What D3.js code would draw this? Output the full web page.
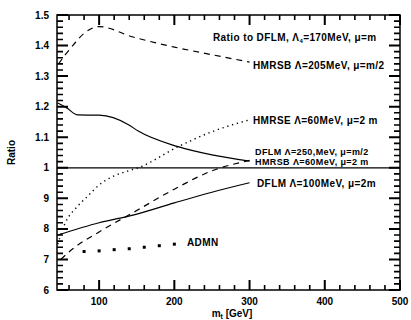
<!DOCTYPE html>
<html>
<head>
<meta charset="utf-8">
<script src="https://cdn.jsdelivr.net/npm/d3@7"></script>
<style>
  body { margin: 0; background: #fff; }
  text { font-family: "Liberation Sans", Arial, sans-serif; font-weight: bold; fill: #000; }
</style>
</head>
<body>
<div id="chart"></div>
<script>
// tick values and labels
const xTicks = [100, 200, 300, 400, 500];
const xMinor = [60, 80, 120, 140, 160, 180, 220, 240, 260, 280, 320, 340, 360, 380, 420, 440, 460, 480];
const yTicks = [0.6, 0.7, 0.8, 0.9, 1.0, 1.1, 1.2, 1.3, 1.4, 1.5];
const yTickLabels = ["6", "7", "8", "9", "1", "1.1", "1.2", "1.3", "1.4", "1.5"];

// curves, [m_t, ratio]
const hmrsb205 = [[46, 1.34], [55, 1.37], [65, 1.40], [80, 1.44], [100, 1.462], [145, 1.428], [200, 1.395], [250, 1.37], [300, 1.346]];
const hmrse60 = [[45, 0.75], [54, 0.814], [71, 0.873], [84, 0.905], [100, 0.944], [117, 0.97], [135, 0.987], [152, 1.0], [205, 1.069], [250, 1.118], [300, 1.157]];
const dflm250 = [[45, 1.212], [57, 1.196], [71, 1.173], [100, 1.172], [139, 1.141], [152, 1.12], [205, 1.069], [250, 1.042], [300, 1.022]];
const hmrsb60 = [[49, 0.70], [65, 0.735], [100, 0.79], [150, 0.86], [200, 0.93], [250, 0.99], [300, 1.024]];
const dflm100 = [[45, 0.78], [100, 0.82], [145, 0.845], [200, 0.885], [250, 0.92], [300, 0.951]];
const admnM = [80, 100, 120, 140, 160, 180, 200];
const admnRatio = [0.726, 0.728, 0.732, 0.735, 0.74, 0.745, 0.75];

const width = 411, height = 320;
const margin = { top: 15, right: 11, bottom: 30, left: 57 };

const x = d3.scaleLinear().domain([44, 500]).range([margin.left, width - margin.right]);
const y = d3.scaleLinear().domain([0.6, 1.5]).range([height - margin.bottom, margin.top]);

const svg = d3.select("#chart").append("svg")
    .attr("width", width)
    .attr("height", height);

const xL = margin.left, xR = width - margin.right;
const yB = height - margin.bottom, yT = margin.top;
const yMinor = d3.range(0.62, 1.5, 0.02).filter(v => Math.abs(v * 10 - Math.round(v * 10)) > 0.01);

// frame
svg.append("rect")
    .attr("x", xL)
    .attr("y", yT)
    .attr("width", xR - xL)
    .attr("height", yB - yT)
    .attr("fill", "none")
    .attr("stroke", "#000")
    .attr("stroke-width", 1.5);

// inward tick marks on all four sides
function yTickPath(vals, len) {
    return vals.map(d => `M${xL},${y(d)}h${len}M${xR},${y(d)}h${-len}`).join("");
}
function xTickPath(vals, len) {
    return vals.map(d => `M${x(d)},${yB}v${-len}M${x(d)},${yT}v${len}`).join("");
}
svg.append("path")
    .attr("d", yTickPath(yTicks, 11) + xTickPath(xTicks, 10))
    .attr("fill", "none")
    .attr("stroke", "#000")
    .attr("stroke-width", 2);
svg.append("path")
    .attr("d", yTickPath(yMinor, 6) + xTickPath(xMinor, 5))
    .attr("fill", "none")
    .attr("stroke", "#000")
    .attr("stroke-width", 1.6);

// tick labels
svg.append("g")
    .selectAll("text")
    .data(yTicks)
    .join("text")
    .attr("x", xL - 8)
    .attr("y", d => y(d))
    .attr("dy", "0.35em")
    .attr("text-anchor", "end")
    .attr("font-size", 10)
    .text((d, i) => yTickLabels[i]);

svg.append("g")
    .selectAll("text")
    .data(xTicks)
    .join("text")
    .attr("x", d => x(d))
    .attr("y", 305)
    .attr("text-anchor", "middle")
    .attr("font-size", 10)
    .text(d => d);

// reference line at ratio 1
svg.append("line")
    .attr("x1", x(44)).attr("x2", x(500))
    .attr("y1", y(1)).attr("y2", y(1))
    .attr("stroke", "#000")
    .attr("stroke-width", 1.3);

const line = d3.line()
    .x(d => x(d[0]))
    .y(d => y(d[1]))
    .curve(d3.curveMonotoneX);

function curve(data, dash, w = 1.2) {
    svg.append("path")
        .datum(data)
        .attr("d", line)
        .attr("fill", "none")
        .attr("stroke", "#000")
        .attr("stroke-width", w)
        .attr("stroke-dasharray", dash);
}
curve(hmrsb205, "6,5");
curve(hmrse60, "1.3,3.7", 1.4);
curve(dflm250, null);
curve(hmrsb60, "6,5");
curve(dflm100, null);

// ADMN points
svg.append("g")
    .selectAll("rect")
    .data(admnM)
    .join("rect")
    .attr("x", d => x(d) - 1.5)
    .attr("y", (d, i) => y(admnRatio[i]) - 1.5)
    .attr("width", 3)
    .attr("height", 3)
    .attr("fill", "#000");

// curve labels
function label(tx, ty, parts, fs = 10) {
    const t = svg.append("text")
        .attr("x", tx)
        .attr("y", ty)
        .attr("font-size", fs)
        .attr("letter-spacing", 0.4);
    parts.forEach(p => {
        const s = t.append("tspan").text(p.t);
        if (p.sub) s.attr("font-size", 6).attr("dy", 2);
        if (p.up) s.attr("dy", -2);
    });
}
label(213, 41, [{ t: "Ratio to DFLM, Λ" }, { t: "4", sub: true }, { t: "=170MeV, μ=m", up: true }]);
label(253, 69, [{ t: "HMRSB Λ=205MeV, μ=m/2" }]);
label(253, 124, [{ t: "HMRSE Λ=60MeV, μ=2 m" }]);
label(255, 155, [{ t: "DFLM Λ=250,MeV, μ=m/2" }], 9);
label(255, 165, [{ t: "HMRSB Λ=60MeV, μ=2 m" }], 9);
label(257, 187, [{ t: "DFLM Λ=100MeV, μ=2m" }]);
label(187, 246, [{ t: "ADMN" }]);

// axis titles
svg.append("text")
    .attr("transform", `translate(15,${y(1.05)}) rotate(-90)`)
    .attr("text-anchor", "middle")
    .attr("font-size", 10)
    .text("Ratio");

const xt = svg.append("text")
    .attr("x", 232)
    .attr("y", 317)
    .attr("text-anchor", "middle")
    .attr("font-size", 10);
xt.append("tspan").text("m");
xt.append("tspan").attr("font-size", 7).attr("dy", 2).text("t");
xt.append("tspan").attr("dy", -2).text(" [GeV]");
</script>
</body>
</html>
